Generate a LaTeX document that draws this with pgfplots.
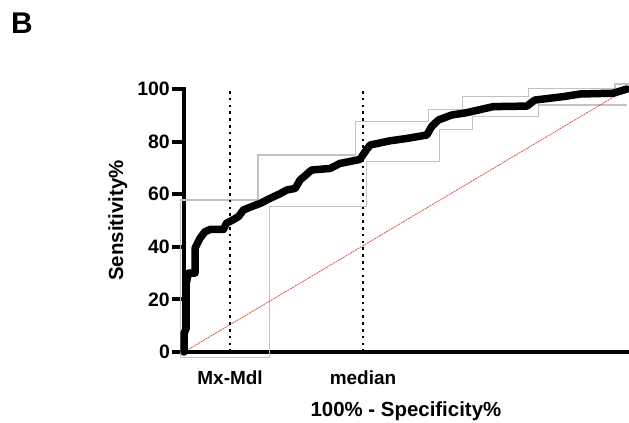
\documentclass[border=0pt]{standalone}
\usepackage{fontspec}
\setmainfont{Liberation Sans}
\usepackage{pgfplots}
\pgfplotsset{compat=1.18}
\definecolor{boxgrey}{RGB}{195,195,195}
\definecolor{diagred}{RGB}{215,85,70}
\begin{document}
\begin{tikzpicture}
\useasboundingbox (0,0) rectangle (629bp,-423bp);
\node[anchor=north west, inner sep=0pt, font=\fontsize{30}{30}\selectfont\bfseries] at (11bp,-13bp) {B};
\begin{axis}[
  at={(184bp,-352bp)}, anchor=south west,
  scale only axis, width=443bp, height=263bp,
  xmin=0, xmax=100, ymin=0, ymax=100,
  axis lines*=left,
  axis line style={line width=4.8bp, line cap=rect},
  clip=false,
  ytick={0,20,...,100},
  tick align=outside,
  major tick length=12bp,
  ytick style={line width=4bp, black},
  yticklabel style={font=\fontsize{19.5}{19.5}\selectfont\bfseries, inner sep=2bp},
  /pgf/number format/assume math mode=true,
  xtick={10.4,40.4},
  xticklabels={Mx-Mdl,median},
  xtick style={draw=none},
  xticklabel style={font=\fontsize{19}{19}\selectfont\bfseries, anchor=base, yshift=-20bp},
  xlabel={100\% - Specificity\%},
  ylabel={Sensitivity\%},
  xlabel style={font=\fontsize{20.5}{20.5}\selectfont\bfseries, at={(axis description cs:0.501,-0.247)}, anchor=base},
  ylabel style={font=\fontsize{20.5}{20.5}\selectfont\bfseries, at={(axis description cs:-0.1377,0.5)}, anchor=base},
]
% confidence band (upper)
\addplot[boxgrey, line width=1.1bp] coordinates {
(-0.7,-2) (-0.7,57.8) (16.7,57.8) (16.7,74.9) (38.8,74.9) (38.8,87.6)
(55.1,87.6) (55.1,92.3) (62.9,92.3) (62.9,97.3) (77.7,97.3) (77.7,100.3)
(97.3,100.3) (97.3,101.9) (100.5,101.9)};
% confidence band (lower)
\addplot[boxgrey, line width=1.1bp] coordinates {
(-0.7,-2) (19.2,-2) (19.2,55.3) (41.1,55.3) (41.1,72.4) (57.6,72.4)
(57.6,84.7) (65.2,84.7) (65.2,89.7) (80.1,89.7) (80.1,93.9) (100,93.9)};
% reference diagonal
\addplot[diagred, line width=0.8bp, dash pattern=on 2bp off 0.8bp] coordinates {(0,0) (100,100)};
% cut-off lines
\addplot[black, line width=2.6bp, dash pattern=on 2.6bp off 4.2bp] coordinates {(10.4,0) (10.4,100)};
\addplot[black, line width=2.6bp, dash pattern=on 2.6bp off 4.2bp] coordinates {(40.4,0) (40.4,100)};
% ROC curve
\addplot[black, line width=7.5bp, line join=round, line cap=round] coordinates {
(0,0) (0,7) (0.5,9) (0.5,26) (1,30) (2.5,30) (2.5,39.5) (3.6,43.2) (4.7,45.7)
(5.9,46.6) (8.9,46.6) (9.6,49) (10.8,50) (12.3,51.5) (13.4,54) (15.6,55.5)
(17.2,56.5) (19.4,58.4) (21.7,60.2) (23.2,61.6) (25.1,62.2) (26.2,65.4)
(28.8,69.2) (33,69.8) (35.2,71.7) (39.7,73.2) (40.9,76.2) (42,78.7)
(46.5,80.3) (50.3,81.2) (54.8,82.5) (55.9,85.7) (57.4,88.2) (60.4,90.1)
(63.8,91) (69.8,93.3) (77.4,93.5) (79.2,95.8) (85.6,97.1) (89.4,98.1)
(96.9,98.4) (100,100)};
\end{axis}
\end{tikzpicture}
\end{document}
